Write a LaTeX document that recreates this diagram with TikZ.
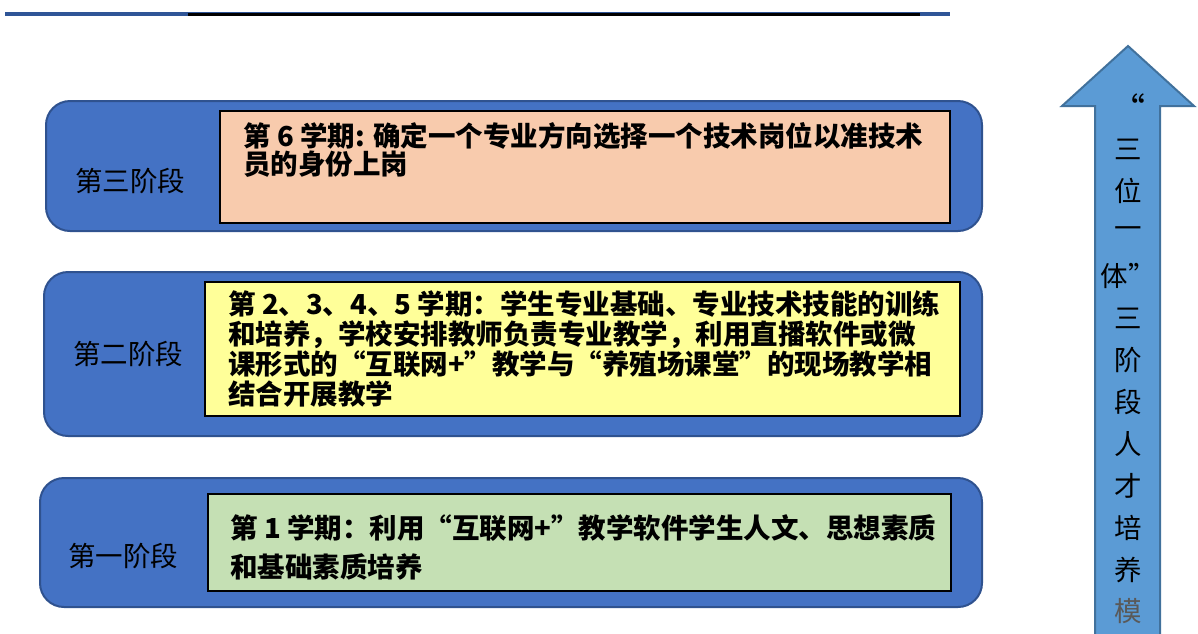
\documentclass[tikz,border=0pt]{standalone}
\usepackage{fontspec}
\newfontfamily\cjk{Noto Sans CJK SC}
\definecolor{outerfill}{HTML}{4472C4}
\definecolor{outerline}{HTML}{2F528F}
\definecolor{peach}{HTML}{F8CBAD}
\definecolor{paleyellow}{HTML}{FFFF99}
\definecolor{palegreen}{HTML}{C5E0B4}
\definecolor{arrowfill}{HTML}{5B9BD5}
\definecolor{arrowline}{HTML}{41719C}
\definecolor{topblue}{HTML}{2F5597}
\tikzset{
  stagebox/.style={fill=outerfill, draw=outerline, line width=2pt, rounded corners=24pt},
  textbox/.style={draw=black, line width=2pt},
  stagelabel/.style={anchor=west, inner sep=0pt, font=\cjk\fontsize{27.5}{27.5}\selectfont},
  bodyline/.style={anchor=base west, inner sep=0pt, font=\cjk\bfseries\fontsize{27.5}{27.5}\selectfont},
  arrowchar/.style={anchor=center, inner sep=0pt, font=\cjk\fontsize{27.5}{27.5}\selectfont},
}
\begin{document}
\begin{tikzpicture}[x=1pt,y=-1pt]
\useasboundingbox (0,0) rectangle (1198,633);
% top rule
\draw[topblue, line width=3.5pt] (5,14) -- (950,14);
\draw[black, line width=3pt] (188,14) -- (920,14);

% stage 3
\draw[stagebox] (46,101) rectangle (982,231);
\draw[textbox, fill=peach] (220,111) rectangle (950,223);
\node[stagelabel] (l3) at (75,181) {第三阶段};
\node[bodyline] (t3a) at (243,146) {第 6 学期: 确定一个专业方向选择一个技术岗位以准技术};
\node[bodyline] (t3b) at (243,174) {员的身份上岗};

% stage 2
\draw[stagebox] (44,272) rectangle (982,436);
\draw[textbox, fill=paleyellow] (205,282) rectangle (960,416);
\node[stagelabel] (l2) at (73,354) {第二阶段};
\node[bodyline] (t2a) at (228,314) {第 2、3、4、5 学期：学生专业基础、专业技术技能的训练};
\node[bodyline] (t2b) at (228,344) {和培养，学校安排教师负责专业教学，利用直播软件或微};
\node[bodyline] (t2c) at (228,374) {课形式的“互联网+”教学与“养殖场课堂”的现场教学相};
\node[bodyline] (t2d) at (228,404) {结合开展教学};

% stage 1
\draw[stagebox] (40,478) rectangle (982,607);
\draw[textbox, fill=palegreen] (208,494) rectangle (951,591);
\node[stagelabel] (l1) at (68,556) {第一阶段};
\node[bodyline] (t1a) at (230,538) {第 1 学期：利用“互联网+”教学软件学生人文、思想素质};
\node[bodyline] (t1b) at (230,577) {和基础素质培养};

% upward block arrow
\coordinate (tip) at (1128,46);
\draw[fill=arrowfill, draw=arrowline, line width=2pt, line join=miter]
  (1095,645) -- (1095,106) -- (1062,106) -- (tip) -- (1194,106) -- (1160,106) -- (1160,645) -- cycle;
\node[arrowchar, font=\cjk\fontsize{34}{34}\selectfont] (q) at (1128,108) {“};
\node[arrowchar] (a1) at (1128,149) {三};
\node[arrowchar] (a2) at (1128,191) {位};
\node[arrowchar] (a3) at (1128,233) {一};
\node[arrowchar] (a4) at (1128,276) {体”};
\node[arrowchar] (a5) at (1128,318) {三};
\node[arrowchar] (a6) at (1128,360) {阶};
\node[arrowchar] (a7) at (1128,402) {段};
\node[arrowchar] (a8) at (1128,444) {人};
\node[arrowchar] (a9) at (1128,486) {才};
\node[arrowchar] (a10) at (1128,528) {培};
\node[arrowchar] (a11) at (1128,570) {养};
\node[arrowchar, text=black!65] (a12) at (1128,611) {模};
\end{tikzpicture}
\end{document}
